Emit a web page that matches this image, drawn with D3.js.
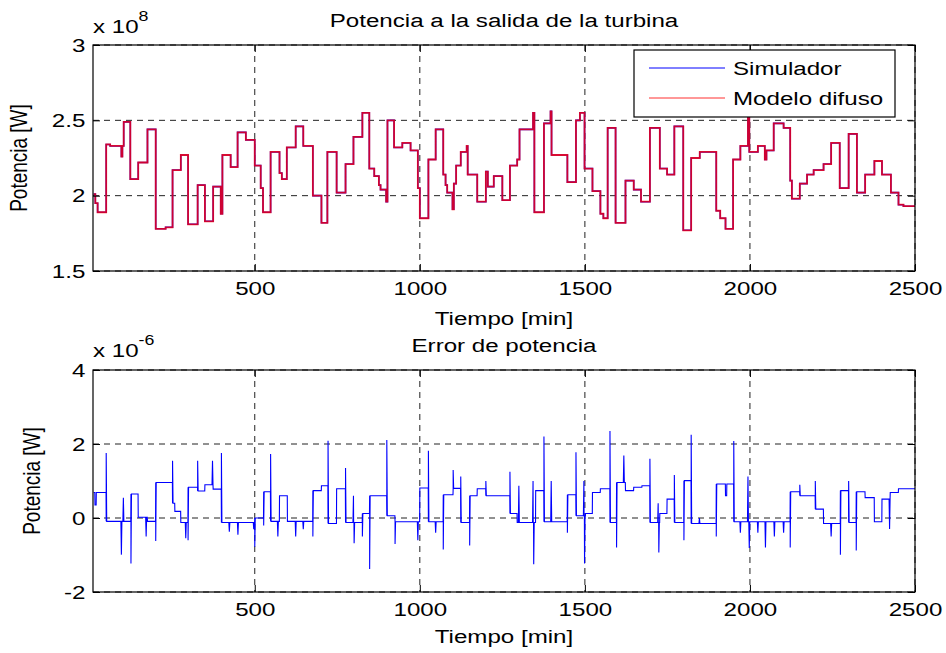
<!DOCTYPE html>
<html>
<head>
<meta charset="utf-8">
<script src="https://cdn.jsdelivr.net/npm/d3@7"></script>
<style>
body { margin: 0; background: #fff; }
text { font-family: "Liberation Sans", Arial, Helvetica, sans-serif; fill: #000; }
</style>
</head>
<body>
<div id="fig"></div>
<script>
// turbine power (x 1e8 W): times [min] where the level changes, and the level after it
var simT = [12, 17, 24, 50, 62, 96, 99, 103, 123, 147, 175, 200, 230, 251, 276, 298, 327, 349, 374, 397,
  402, 427, 448, 473, 500, 518, 525, 548, 575, 582, 597, 624, 647, 676, 702, 720, 748, 775, 799, 826,
  847, 862, 876, 881, 898, 902, 922, 947, 972, 994, 1000, 1026, 1048, 1071, 1078, 1083, 1099, 1103, 1110, 1124,
  1142, 1145, 1174, 1200, 1206, 1224, 1250, 1273, 1295, 1302, 1343, 1347, 1376, 1396, 1399, 1447, 1473, 1485, 1499, 1523,
  1547, 1556, 1569, 1593, 1623, 1648, 1670, 1697, 1727, 1749, 1771, 1798, 1822, 1848, 1898, 1910, 1926, 1949, 1971, 1994,
  1998, 2024, 2045, 2050, 2072, 2102, 2122, 2127, 2151, 2173, 2193, 2223, 2246, 2272, 2299, 2324, 2349, 2377, 2400, 2427,
  2450, 2465, 2500];
var simV = [2.01, 1.95, 1.89, 2.34, 2.33, 2.26, 2.33, 2.49, 2.11, 2.22, 2.44, 1.78, 1.79, 2.17, 2.27, 1.81, 2.07, 1.83, 2.06, 1.88,
  2.27, 2.19, 2.42, 2.37, 2.20, 2.05, 1.89, 2.29, 2.15, 2.11, 2.32, 2.46, 2.33, 2.00, 1.82, 2.29, 2.02, 2.21, 2.39, 2.55,
  2.18, 2.13, 2.07, 2.04, 1.96, 2.50, 2.32, 2.35, 2.30, 2.05, 1.85, 2.24, 2.44, 2.14, 2.07, 2.02, 1.91, 2.08, 2.20, 2.29,
  2.33, 2.14, 1.96, 2.16, 2.06, 2.13, 1.97, 2.20, 2.24, 2.44, 2.55, 1.89, 2.48, 2.56, 2.27, 2.09, 2.50, 2.55, 2.18, 2.03,
  1.88, 1.85, 2.45, 1.82, 2.10, 2.04, 1.96, 2.45, 2.18, 2.14, 2.46, 1.77, 2.25, 2.29, 1.90, 1.85, 1.78, 2.24, 2.33, 2.55,
  2.29, 2.33, 2.24, 2.30, 2.48, 2.45, 2.10, 1.98, 2.08, 2.14, 2.17, 2.21, 2.35, 2.05, 2.41, 2.02, 2.14, 2.23, 2.14, 2.02,
  1.94, 1.93, 1.93];

// power error (x 1e-6 W): level changes
var errT = [12, 16, 20, 50, 125, 147, 175, 200, 251, 258, 276, 298, 327, 349, 374, 399, 500, 527, 548, 575,
  599, 676, 702, 722, 748, 775, 826, 848, 900, 925, 1000, 1026, 1071, 1101, 1124, 1151, 1174, 1200, 1273, 1295,
  1351, 1376, 1447, 1473, 1502, 1523, 1547, 1576, 1596, 1623, 1648, 1673, 1697, 1727, 1749, 1771, 1800, 1822, 1898, 1926,
  1930, 1951, 2122, 2151, 2198, 2223, 2274, 2299, 2322, 2349, 2377, 2400, 2425, 2450, 2500];
var errV = [0.69, 0.35, 0.69, -0.09, 0.65, 0.02, -0.09, 0.96, 0.40, 0.18, -0.12, 0.83, 0.73, 0.90, 0.78, -0.12, 0.0, 0.71, -0.09, 0.60,
  -0.09, 0.74, 0.87, -0.15, 0.79, -0.12, 0.12, 0.60, 0.06, -0.10, 0.81, -0.10, 0.63, 0.80, -0.12, 0.60, 0.79, 0.60, 0.12, -0.12,
  0.74, -0.10, 0.63, 0.06, 0.12, 0.69, 0.79, -0.12, 0.96, 0.74, 0.83, 0.87, -0.12, 0.12, 0.51, -0.12, 1.01, -0.15, 0.92, 0.60,
  0.92, -0.10, 0.71, 0.60, 0.24, -0.15, 0.74, -0.12, 0.71, 0.55, -0.10, 0.51, 0.69, 0.79, 0.79];
// power error: narrow spikes
var spikeT = [50, 96, 102, 125, 171, 200, 251, 291, 298, 327, 372, 399, 423, 449, 497, 500, 527, 548, 570, 624,
  647, 676, 722, 775, 799, 801, 826, 848, 900, 925, 994, 1026, 1048, 1071, 1101, 1124, 1151, 1200, 1273, 1300,
  1343, 1345, 1376, 1398, 1447, 1473, 1497, 1499, 1576, 1596, 1618, 1697, 1722, 1724, 1771, 1800, 1822, 1847, 1898, 1951,
  1971, 1994, 1998, 2024, 2047, 2074, 2102, 2122, 2151, 2198, 2246, 2274, 2299, 2322, 2423];
var spikeV = [1.76, -0.99, 0.55, -1.23, -0.50, -0.62, 1.55, -0.55, -0.60, 1.55, 1.55, 1.76, -0.37, -0.45, -0.30, -0.78, -0.20, 1.73, -0.50, -0.50,
  -0.30, -0.50, 2.09, 1.35, 0.60, -0.68, -0.50, -1.38, 2.11, -0.70, -0.60, 1.82, -0.40, -0.85, 1.30, 1.12, -0.74, 1.00, 1.25, 0.87,
  1.00, -1.25, 2.20, 1.00, -0.40, 1.78, 1.00, -1.23, 2.35, -0.80, 1.69, 1.60, 0.40, -0.93, 1.16, -0.60, 2.25, 0.00, -0.50, 2.08,
  -0.40, 1.12, -0.81, -0.40, -0.80, -0.50, -0.40, -0.80, 0.90, 1.00, -0.50, -0.99, 1.00, -0.88, -0.30];

var xTicks = [500, 1000, 1500, 2000, 2500];
var powTicks = [1.5, 2, 2.5, 3];
var errTicks = [-2, 0, 2, 4];

var width = 946, height = 653;
var sx = 1.27; // the figure text is stretched horizontally
var fontSize = 19;

var svg = d3.select("#fig").append("svg")
  .attr("width", width)
  .attr("height", height);

var x = d3.scaleLinear().domain([10, 2500]).range([93, 915]);
var yPow = d3.scaleLinear().domain([1.5, 3]).range([271, 45]);
var yErr = d3.scaleLinear().domain([-2, 4]).range([592, 370]);

function stretchedText(g, tx, ty, str, anchor, size) {
  return g.append("text")
    .attr("transform", "translate(" + tx + "," + ty + ") scale(" + sx + ",1)")
    .attr("text-anchor", anchor || "start")
    .attr("font-size", size || fontSize)
    .text(str);
}

function drawPanel(y, yTicks, opts) {
  var g = svg.append("g");
  var x0 = x.range()[0], x1 = x.range()[1];
  var y0 = y.range()[1], y1 = y.range()[0];

  // dashed grid
  g.selectAll(".gx").data(xTicks).enter().append("line")
    .attr("x1", d => x(d)).attr("x2", d => x(d))
    .attr("y1", y0).attr("y2", y1)
    .attr("stroke", "#222").attr("stroke-width", 1).attr("stroke-dasharray", "6,5");
  g.selectAll(".gy").data(yTicks).enter().append("line")
    .attr("x1", x0).attr("x2", x1)
    .attr("y1", d => y(d)).attr("y2", d => y(d))
    .attr("stroke", "#222").attr("stroke-width", 1).attr("stroke-dasharray", "6,5");

  opts.drawData(g);

  // box
  g.append("rect")
    .attr("x", x0).attr("y", y0)
    .attr("width", x1 - x0).attr("height", y1 - y0)
    .attr("fill", "none").attr("stroke", "#000").attr("stroke-width", 1.2);

  // inward ticks on all sides, plain labels like "1000" and "-2"
  var fmt = d => String(d);
  var axB = g.append("g").attr("transform", "translate(0," + y1 + ")")
    .call(d3.axisBottom(x).tickValues(xTicks).tickFormat(fmt).tickSizeInner(-7).tickSizeOuter(0).tickPadding(11));
  var axT = g.append("g").attr("transform", "translate(0," + y0 + ")")
    .call(d3.axisTop(x).tickValues(xTicks).tickSizeInner(-7).tickSizeOuter(0).tickFormat(""));
  var axL = g.append("g").attr("transform", "translate(" + x0 + ",0)")
    .call(d3.axisLeft(y).tickValues(yTicks).tickFormat(fmt).tickSizeInner(-7).tickSizeOuter(0).tickPadding(6));
  var axR = g.append("g").attr("transform", "translate(" + x1 + ",0)")
    .call(d3.axisRight(y).tickValues(yTicks).tickSizeInner(-7).tickSizeOuter(0).tickFormat(""));
  [axB, axT, axL, axR].forEach(function(a) {
    a.select(".domain").remove();
    a.selectAll("line").attr("stroke", "#000");
    a.selectAll("text")
      .attr("font-size", fontSize)
      .attr("font-family", "Liberation Sans, Arial, Helvetica, sans-serif")
      .attr("fill", "#000")
      .attr("transform", "scale(" + sx + ",1)");
  });
  axL.selectAll("text").attr("x", -6);

  // title, axis labels, exponent
  stretchedText(g, (x0 + x1) / 2, opts.titleY, opts.title, "middle");
  stretchedText(g, (x0 + x1) / 2, opts.xLabelY, "Tiempo [min]", "middle");
  g.append("text")
    .attr("transform", "translate(" + opts.yLabelX + "," + (y0 + y1) / 2 + ") scale(" + sx + ",1) rotate(-90)")
    .attr("text-anchor", "middle")
    .attr("font-size", fontSize)
    .text("Potencia [W]");
  var ex = g.append("text")
    .attr("transform", "translate(" + x0 + "," + opts.expY + ") scale(" + sx + ",1)")
    .attr("font-size", fontSize)
    .text("x 10");
  ex.append("tspan").attr("dy", -12).attr("font-size", 14).text(opts.exp);
  return g;
}

// top panel: simulator vs fuzzy model
drawPanel(yPow, powTicks, {
  title: "Potencia a la salida de la turbina",
  titleY: 27, xLabelY: 325, yLabelX: 27, expY: 33, exp: "8",
  drawData: function(g) {
    var line = d3.line()
      .x((d, i) => x(simT[i]))
      .y(d => yPow(d))
      .curve(d3.curveStepAfter);
    g.append("path").attr("d", line(simV))
      .attr("fill", "none").attr("stroke", "#0000ff").attr("stroke-width", 1.6);
    g.append("path").attr("d", line(simV))
      .attr("fill", "none").attr("stroke", "#ff0000").attr("stroke-width", 1.8).attr("stroke-opacity", 0.8);
  }
});

// bottom panel: power error
function levelAt(t) {
  var i = d3.bisectRight(errT, t) - 1;
  return errV[Math.max(0, Math.min(errV.length - 1, i))];
}
var errPts = [];
errT.forEach(function(t, i) {
  if (i > 0) errPts.push([t - 0.5, errV[i - 1]]);
  errPts.push([t, errV[i]]);
});
spikeT.forEach(function(t, i) {
  errPts.push([t - 1.5, levelAt(t - 1.5)], [t, spikeV[i]], [t + 1.5, levelAt(t + 1.5)]);
});
errPts = errPts.filter(p => p[0] >= 12 && p[0] <= 2500);
errPts.sort((a, b) => a[0] - b[0]);

drawPanel(yErr, errTicks, {
  title: "Error de potencia",
  titleY: 352, xLabelY: 643, yLabelX: 40, expY: 357, exp: "-6",
  drawData: function(g) {
    var line = d3.line().x(d => x(d[0])).y(d => yErr(d[1]));
    g.append("path").attr("d", line(errPts))
      .attr("fill", "none").attr("stroke", "#0000ff").attr("stroke-width", 1.1);
  }
});

// legend
var leg = svg.append("g");
leg.append("rect")
  .attr("x", 634).attr("y", 50).attr("width", 261).attr("height", 67)
  .attr("fill", "#fff").attr("stroke", "#000").attr("stroke-width", 1.2);
var legNames = ["Simulador", "Modelo difuso"];
var legColors = ["#0000ff", "#ff3030"];
legNames.forEach(function(n, i) {
  var yy = 68 + i * 30;
  leg.append("line").attr("x1", 649).attr("x2", 725).attr("y1", yy).attr("y2", yy)
    .attr("stroke", legColors[i]).attr("stroke-width", 1);
  stretchedText(leg, 733, yy + 7, n, "start");
});
</script>
</body>
</html>
